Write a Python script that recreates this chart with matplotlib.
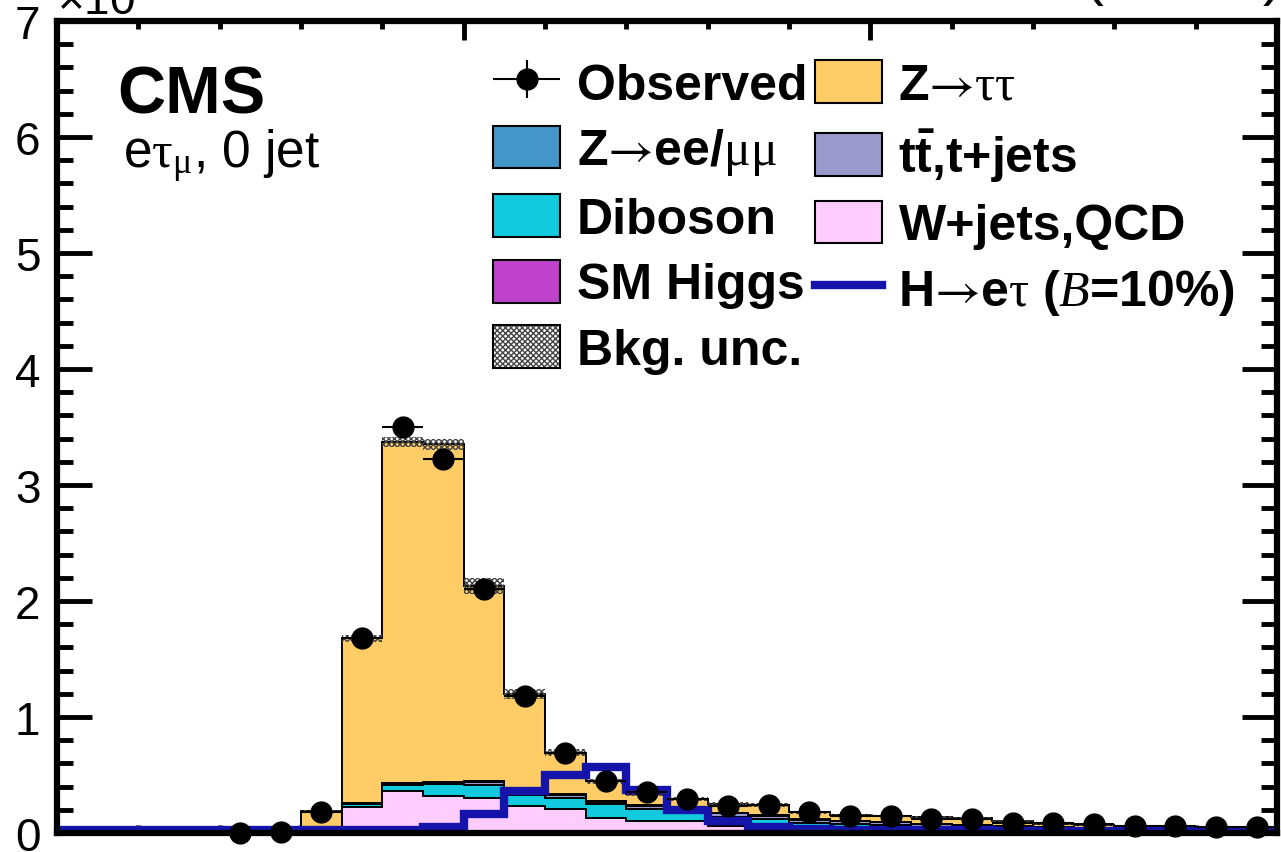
import numpy as np
import matplotlib
matplotlib.use("Agg")
import matplotlib.pyplot as plt
from matplotlib.patches import Patch
from matplotlib.lines import Line2D
from matplotlib.container import ErrorbarContainer
from matplotlib.legend_handler import HandlerErrorbar
from matplotlib.ticker import MultipleLocator

plt.rcParams['font.family'] = ['Liberation Sans', 'DejaVu Sans']
plt.rcParams['mathtext.fontset'] = 'custom'
plt.rcParams['mathtext.rm'] = 'Liberation Serif'
plt.rcParams['mathtext.it'] = 'Liberation Serif:italic'
plt.rcParams['mathtext.bf'] = 'Liberation Sans:bold'
plt.rcParams['mathtext.sf'] = 'STIXGeneral'
plt.rcParams['hatch.linewidth'] = 1.0

# collinear mass bins, 0-300 GeV in 10 GeV steps (events x 10^3)
edges = np.arange(0, 310, 10)

wjets = [0, 0, 0, 0, 0, 0, 0.02, 0.22, 0.36, 0.32, 0.30, 0.23, 0.21, 0.13, 0.10,
         0.10, 0.06, 0.05, 0.04, 0.03, 0.03, 0.02, 0.02, 0.015, 0.015, 0.01, 0.01, 0.01, 0.01, 0.01]
diboson = [0, 0, 0, 0, 0, 0, 0.005, 0.03, 0.055, 0.10, 0.11, 0.10, 0.09, 0.12, 0.11,
           0.08, 0.08, 0.07, 0.05, 0.045, 0.04, 0.035, 0.03, 0.025, 0.02, 0.02, 0.015, 0.015, 0.01, 0.01]
ttbar = [0, 0, 0, 0, 0, 0, 0, 0, 0.005, 0.01, 0.03, 0.02, 0.025, 0.02, 0.025,
         0.03, 0.03, 0.03, 0.025, 0.025, 0.025, 0.02, 0.02, 0.02, 0.015, 0.015, 0.012, 0.01, 0.01, 0.01]
zll = [0, 0, 0, 0, 0, 0, 0, 0.01, 0.01, 0.008, 0.006, 0.004, 0.003, 0.002, 0.002,
       0.002, 0.002, 0.002, 0.002, 0.002, 0.001, 0.001, 0, 0, 0, 0, 0, 0, 0, 0]
smhiggs = [0, 0, 0, 0, 0, 0, 0, 0, 0.001, 0.002, 0.004, 0.005, 0.005, 0.004, 0.002,
           0.002, 0.001, 0.001, 0, 0, 0, 0, 0, 0, 0, 0, 0, 0, 0, 0]
ztautau = [0, 0, 0, 0, 0, 0, 0.165, 1.42, 2.94, 2.91, 1.68, 0.84, 0.36, 0.17, 0.10,
           0.08, 0.08, 0.09, 0.06, 0.05, 0.05, 0.06, 0.06, 0.04, 0.03, 0.025, 0.02, 0.015, 0.02, 0.01]
bkg_unc = [0, 0, 0, 0, 0, 0, 0.01, 0.03, 0.04, 0.05, 0.07, 0.04, 0.03, 0.02, 0.02,
           0.015, 0.015, 0.015, 0.01, 0.01, 0.01, 0.01, 0.01, 0.01, 0.01, 0.01, 0.01, 0.01, 0.01, 0.01]
signal = [0.025, 0.025, 0.025, 0.025, 0.025, 0.025, 0.025, 0.025, 0.025, 0.05, 0.16, 0.36, 0.50, 0.57, 0.37,
          0.20, 0.10, 0.05, 0.035, 0.03, 0.025, 0.025, 0.025, 0.02, 0.02, 0.02, 0.02, 0.02, 0.02, 0.02]

obs_x = np.arange(45, 300, 10)
observed = [0.0, 0.01, 0.18, 1.68, 3.50, 3.22, 2.10, 1.18, 0.69, 0.45, 0.35, 0.29, 0.23,
            0.24, 0.18, 0.15, 0.15, 0.12, 0.12, 0.09, 0.086, 0.078, 0.058, 0.058, 0.055, 0.049]

colors = {
    'wjets': '#FFCCFF', 'diboson': '#12CADD', 'ttbar': '#9999CC',
    'zll': '#4496C8', 'smhiggs': '#C042CC', 'ztautau': '#FFCC66',
}
sig_color = '#1414AA'

fig = plt.figure(figsize=(12.81, 8.53), dpi=100)
ax = fig.add_axes([57 / 1281, 19 / 853, 1220 / 1281, 812 / 853])

layers = [(wjets, colors['wjets']), (diboson, colors['diboson']), (ttbar, colors['ttbar']),
          (zll, colors['zll']), (smhiggs, colors['smhiggs']), (ztautau, colors['ztautau'])]
cum = np.cumsum([np.array(v, dtype=float) for v, _ in layers], axis=0)
for k in range(len(layers) - 1, -1, -1):
    ax.stairs(cum[k], edges, baseline=0, fill=True, color=layers[k][1], lw=0, zorder=2)
    ax.stairs(cum[k], edges, baseline=0, color='black', lw=1.4, zorder=2)

total = cum[-1]
unc = np.array(bkg_unc)
ax.stairs(total + unc, edges, baseline=total - unc, fill=True, facecolor='none',
          edgecolor='#444444', hatch='xxxxxx', lw=0, zorder=3)

ax.stairs(signal, edges, baseline=None, color=sig_color, lw=6, zorder=4)

obs = np.array(observed)
err = np.sqrt(obs * 1000) / 1000
eb = ax.errorbar(obs_x, obs, xerr=5, yerr=err, fmt='o', color='black', ms=15,
                 lw=1.5, capsize=0, zorder=5, clip_on=False)

ax.set_xlim(0, 300)
ax.set_ylim(0, 7)
ax.xaxis.set_major_locator(MultipleLocator(100))
ax.xaxis.set_minor_locator(MultipleLocator(20))
ax.yaxis.set_major_locator(MultipleLocator(1))
ax.yaxis.set_minor_locator(MultipleLocator(0.2))
ax.tick_params(which='both', direction='in', top=True, right=True, width=3.5, labelbottom=False)
ax.tick_params(axis='y', which='major', length=25, labelsize=33, pad=12)
ax.tick_params(axis='y', which='minor', length=11.5)
ax.tick_params(axis='x', which='major', length=14)
ax.tick_params(axis='x', which='minor', length=6)
for s in ax.spines.values():
    s.set_linewidth(4.5)
    s.set_zorder(6)

fig.text(57 / 1281, (853 - 15) / 853, r"×10$^{3}$", fontsize=33, ha='left', va='baseline')
fig.text(1.0, (853 + 5) / 853, r"19.7 fb$^{-1}$ (8 TeV)", fontsize=43, ha='right', va='baseline')
fig.text(117 / 1281, (853 - 113) / 853, "CMS", fontsize=48, weight='bold', ha='left', va='baseline')
fig.text(123 / 1281, (853 - 168) / 853, r"e$\mathrm{\tau_{\mu}}$, 0 jet", fontsize=37,
         ha='left', va='baseline')

handles = [
    eb,
    Patch(facecolor=colors['zll'], edgecolor='black', lw=1.5),
    Patch(facecolor=colors['diboson'], edgecolor='black', lw=1.5),
    Patch(facecolor=colors['smhiggs'], edgecolor='black', lw=1.5),
    (Patch(facecolor='white', edgecolor='#444444', hatch='xxxxxx', lw=0),
     Patch(fill=False, edgecolor='black', lw=1.5)),
    Patch(facecolor=colors['ztautau'], edgecolor='black', lw=1.5),
    Patch(facecolor=colors['ttbar'], edgecolor='black', lw=1.5),
    Patch(facecolor=colors['wjets'], edgecolor='black', lw=1.5),
    Line2D([], [], color=sig_color, lw=6),
]
labels = [
    "Observed",
    r"Z$\mathsf{→}$ee/$\mathrm{μμ}$",
    "Diboson",
    "SM Higgs",
    "Bkg. unc.",
    r"Z$\mathsf{→}\mathrm{ττ}$",
    r"t$\mathbf{\bar{t}}$,t+jets",
    "W+jets,QCD",
    r"H$\mathsf{→}$e$\mathrm{τ}$ ($\mathit{B}$=10%)",
]
fig.legend(handles, labels, ncol=2, loc='upper left',
           bbox_to_anchor=(493 / 1281, (853 - 61) / 853), frameon=False,
           prop={'family': ['Liberation Sans', 'DejaVu Sans'], 'weight': 'bold', 'size': 36},
           handlelength=1.34, handleheight=0.94, handletextpad=0.34, labelspacing=0.34,
           columnspacing=0.14, borderpad=0, borderaxespad=0,
           handler_map={ErrorbarContainer: HandlerErrorbar(xerr_size=0.67, yerr_size=0.38)})

fig.savefig("out.png", dpi=100)
